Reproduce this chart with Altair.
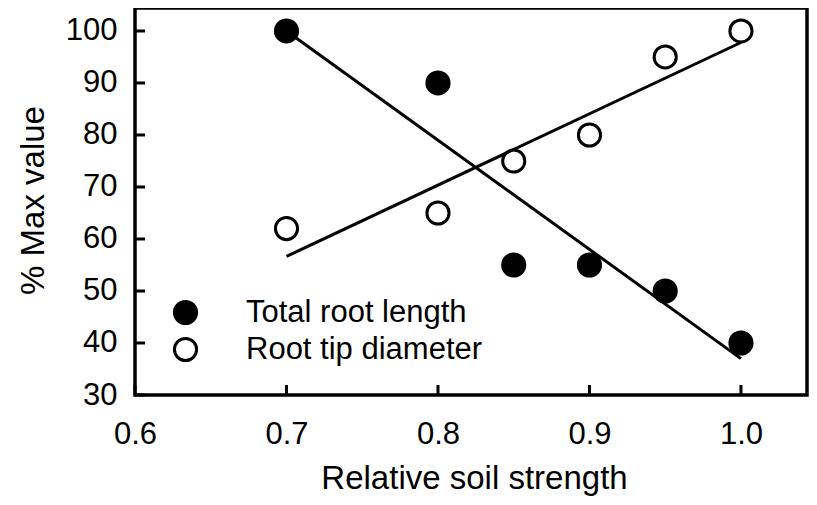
import altair as alt
import pandas as pd

# ---- data ----
x_vals = [0.7, 0.8, 0.85, 0.9, 0.95, 1.0]
total_root_length = [100, 90, 55, 55, 50, 40]
root_tip_diameter = [62, 65, 75, 80, 95, 100]
series_names = ["Total root length", "Root tip diameter"]
x_ticks = [0.6, 0.7, 0.8, 0.9, 1.0]
y_ticks = [30, 40, 50, 60, 70, 80, 90, 100]

df = pd.DataFrame({
    "strength": x_vals + x_vals,
    "value": total_root_length + root_tip_diameter,
    "series": [series_names[0]] * len(x_vals) + [series_names[1]] * len(x_vals),
})

FONT = "Liberation Sans"
FS = 31
TFS = 33
W, H = 672, 387

xscale = alt.Scale(domain=[0.6, 1.0436], nice=False, zero=False)
yscale = alt.Scale(domain=[30, 104.42], nice=False, zero=False)

x_axis = alt.Axis(values=x_ticks, format=".1f", ticks=False, domain=False, grid=False,
                  labelFont=FONT, labelFontSize=FS, labelColor="black", labelPadding=48,
                  labelBaseline="alphabetic", labelFlush=False, labelOverlap=False,
                  title="Relative soil strength", titleFont=FONT, titleFontSize=TFS,
                  titleFontWeight="normal", titleColor="black", titleY=93,
                  titleX=339, titleBaseline="alphabetic")
y_axis = alt.Axis(values=y_ticks, ticks=False, domain=False, grid=False,
                  labelFont=FONT, labelFontSize=FS, labelColor="black", labelPadding=18,
                  labelOverlap=False, labelFlush=False,
                  title="% Max value", titleFont=FONT, titleFontSize=TFS,
                  titleFontWeight="normal", titleColor="black", titleX=-92, titleY=192,
                  titleBaseline="alphabetic", titleAlign="center")

X = alt.X("strength:Q", scale=xscale, axis=x_axis)
Y = alt.Y("value:Q", scale=yscale, axis=y_axis)

base = alt.Chart(df)

points = base.mark_point(shape="circle", filled=True, size=490, stroke="black",
                         strokeWidth=3, opacity=1).encode(
    x=X, y=Y,
    fill=alt.Fill("series:N",
                  scale=alt.Scale(domain=series_names, range=["black", "white"]),
                  sort=series_names,
                  legend=alt.Legend(title=None, orient="none", legendX=35, legendY=289,
                                    labelFont=FONT, labelFontSize=FS, labelColor="black",
                                    labelLimit=500,
                                    symbolType="circle", symbolSize=490,
                                    symbolStrokeColor="black", symbolStrokeWidth=3,
                                    symbolOpacity=1, labelOffset=45, rowPadding=2,
                                    padding=0)),
)

lines = base.transform_regression("strength", "value", groupby=["series"]).mark_line(
    color="black", strokeWidth=3).encode(x=X, y=Y, detail="series:N")

xt = alt.Chart(pd.DataFrame({"strength": x_ticks})).mark_tick(
    orient="vertical", size=10, thickness=3, color="black", opacity=1).encode(
    x=X, y=alt.value(H - 5))

yt = alt.Chart(pd.DataFrame({"value": y_ticks})).mark_tick(
    orient="horizontal", size=10, thickness=3, color="black", opacity=1).encode(
    y=Y, x=alt.value(5))

chart = alt.layer(xt, yt, points, lines).properties(
    width=W, height=H,
    padding={"left": 127, "top": 0, "right": 2, "bottom": 102},
    autosize=alt.AutoSizeParams(type="none"),
    background="white",
).configure_view(stroke="black", strokeWidth=3.5)

chart.save("out.html", embed_options={"renderer": "svg", "actions": False})
